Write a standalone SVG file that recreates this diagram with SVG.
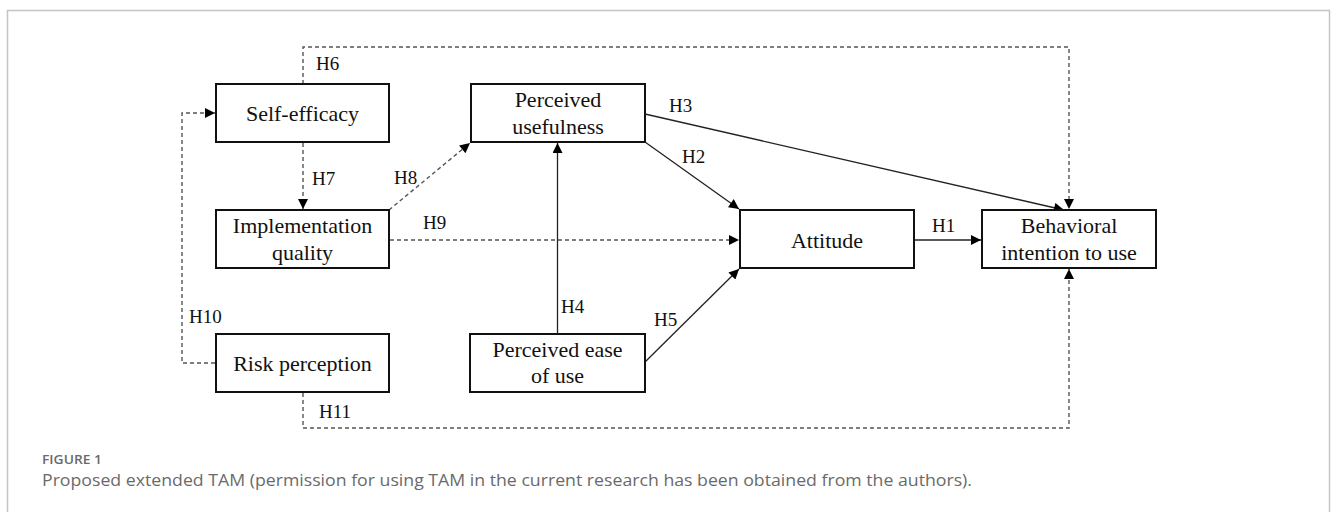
<svg xmlns="http://www.w3.org/2000/svg" width="1331" height="512" viewBox="0 0 1331 512">
<style>
.box{fill:#fff;stroke:#111;stroke-width:2}
.t{font-family:"Liberation Serif","Times New Roman",serif;font-size:22px;fill:#111;text-anchor:middle}
.lb{font-family:"Liberation Serif","Times New Roman",serif;font-size:19px;fill:#111}
.sol{fill:none;stroke:#222;stroke-width:1.3}
.dsh{fill:none;stroke:#555;stroke-width:1.4;stroke-dasharray:4 3}
.cap1{font-family:"Open Sans",sans-serif;font-size:13px;font-weight:600;fill:#6a6a6a}
.cap2{font-family:"Open Sans",sans-serif;font-size:17px;fill:#6a6a6a}
</style>
<defs>
<marker id="ah" viewBox="0 0 10 10" refX="10" refY="5" markerWidth="11" markerHeight="10" markerUnits="userSpaceOnUse" orient="auto">
<path d="M0,0 L10,5 L0,10 z" fill="#000"/>
</marker>
</defs>
<rect x="7.5" y="10.5" width="1322" height="520" fill="#fff" stroke="#c4c4c4" stroke-width="1.5"/>
<g id="connectors">
<path class="dsh" d="M303,84 V47 H1069 V209" marker-end="url(#ah)"/>
<path class="dsh" d="M303,143 V209" marker-end="url(#ah)"/>
<path class="dsh" d="M389,210 L470,143" marker-end="url(#ah)"/>
<path class="dsh" d="M390,240 H739" marker-end="url(#ah)"/>
<path class="dsh" d="M215,363 H182 V113 H215" marker-end="url(#ah)"/>
<path class="dsh" d="M303,393 V428 H1069 V269" marker-end="url(#ah)"/>
<path class="sol" d="M914,240 H981" marker-end="url(#ah)"/>
<path class="sol" d="M645,142 L739,209" marker-end="url(#ah)"/>
<path class="sol" d="M645,114 L1064,210" marker-end="url(#ah)"/>
<path class="sol" d="M557.5,333 V143" marker-end="url(#ah)"/>
<path class="sol" d="M645,362 L739,269" marker-end="url(#ah)"/>
</g>
<g id="labels">
<text class="lb" x="316" y="70">H6</text>
<text class="lb" x="312" y="185">H7</text>
<text class="lb" x="394" y="184">H8</text>
<text class="lb" x="423" y="229">H9</text>
<text class="lb" x="189" y="323">H10</text>
<text class="lb" x="319" y="418">H11</text>
<text class="lb" x="669" y="112">H3</text>
<text class="lb" x="682" y="163">H2</text>
<text class="lb" x="561" y="313">H4</text>
<text class="lb" x="654" y="326">H5</text>
<text class="lb" x="932" y="232">H1</text>
</g>
<g id="self-efficacy">
<rect class="box" x="216" y="84" width="173" height="58"/>
<text class="t" x="302.5" y="121">Self-efficacy</text>
</g>
<g id="implementation-quality">
<rect class="box" x="216" y="210" width="173" height="58"/>
<text class="t" x="302.5" y="233">Implementation</text>
<text class="t" x="302.5" y="260">quality</text>
</g>
<g id="risk-perception">
<rect class="box" x="216" y="334" width="173" height="58"/>
<text class="t" x="302.5" y="371">Risk perception</text>
</g>
<g id="perceived-usefulness">
<rect class="box" x="471" y="84" width="174" height="58"/>
<text class="t" x="558" y="107">Perceived</text>
<text class="t" x="558" y="134">usefulness</text>
</g>
<g id="perceived-ease-of-use">
<rect class="box" x="470" y="334" width="175" height="58"/>
<text class="t" x="557.5" y="357">Perceived ease</text>
<text class="t" x="557.5" y="383">of use</text>
</g>
<g id="attitude">
<rect class="box" x="740" y="210" width="174" height="58"/>
<text class="t" x="827" y="248">Attitude</text>
</g>
<g id="behavioral-intention">
<rect class="box" x="982" y="210" width="174" height="58"/>
<text class="t" x="1069" y="233">Behavioral</text>
<text class="t" x="1069" y="260">intention to use</text>
</g>
<g id="caption">
<text class="cap1" x="42" y="464" textLength="60" lengthAdjust="spacingAndGlyphs">FIGURE 1</text>
<text class="cap2" x="42" y="486" textLength="930" lengthAdjust="spacingAndGlyphs">Proposed extended TAM (permission for using TAM in the current research has been obtained from the authors).</text>
</g>
</svg>
